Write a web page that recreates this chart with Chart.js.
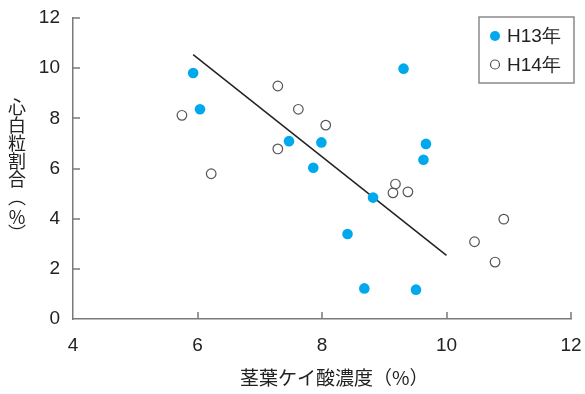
<!DOCTYPE html>
<html>
<head>
<meta charset="utf-8">
<script src="https://cdn.jsdelivr.net/npm/chart.js@4/dist/chart.umd.min.js"></script>
<style>
  html, body { margin: 0; padding: 0; background: #fff; }
  #wrap { width: 585px; height: 394px; }
</style>
</head>
<body>
<div id="wrap"><canvas id="c" width="585" height="394"></canvas></div>
<script>
// 茎葉ケイ酸濃度と心白粒割合
const seriesNames = ['H13年', 'H14年'];
const h13X = [5.93, 6.04, 7.47, 7.99, 7.86, 9.31, 9.67, 9.63, 8.82, 8.41, 8.68, 9.51];
const h13Y = [9.81, 8.36, 7.09, 7.04, 6.03, 9.98, 6.98, 6.35, 4.84, 3.39, 1.22, 1.17];
const h14X = [5.75, 6.22, 7.29, 7.29, 7.62, 8.06, 9.18, 9.14, 9.38, 10.92, 10.45, 10.78];
const h14Y = [8.12, 5.79, 9.29, 6.78, 8.36, 7.73, 5.38, 5.03, 5.07, 3.98, 3.08, 2.27];
const trendX = [5.93, 10.0];
const trendY = [10.54, 2.54];
const xTicks = [4, 6, 8, 10, 12];
const yTicks = [0, 2, 4, 6, 8, 10, 12];
const xTitle = '茎葉ケイ酸濃度（%）';
const yTitleChars = ['心', '白', '粒', '割', '合', '︵', '%', '︶'];

const BLUE = '#00a9ec';
const AXIS = '#7a7a7a';
const TEXT = '#222';
const LATIN = '"Liberation Sans", Arial, sans-serif';
const CJK = '"Noto Sans CJK JP", "Liberation Sans", sans-serif';

const pts = (xs, ys) => xs.map((x, i) => ({ x, y: ys[i] }));

// inward tick marks, axis titles and the boxed legend
const decor = {
  id: 'decor',
  afterDraw(chart) {
    const { ctx, scales: { x, y } } = chart;
    const ca = chart.chartArea;
    ctx.save();
    ctx.strokeStyle = AXIS;
    ctx.lineWidth = 1.5;
    ctx.beginPath();
    xTicks.forEach(v => {
      if (v === xTicks[0]) return;
      const px = Math.round(x.getPixelForValue(v));
      ctx.moveTo(px, ca.bottom);
      ctx.lineTo(px, ca.bottom - 7);
    });
    yTicks.forEach(v => {
      if (v === yTicks[0]) return;
      const py = Math.round(y.getPixelForValue(v));
      ctx.moveTo(ca.left, py);
      ctx.lineTo(ca.left + 7, py);
    });
    ctx.stroke();

    // axis titles
    ctx.fillStyle = TEXT;
    ctx.font = '19px ' + CJK;
    ctx.textAlign = 'left';
    ctx.textBaseline = 'middle';
    ctx.fillText(xTitle, 240, 378);
    ctx.font = '18px ' + CJK;
    ctx.textAlign = 'center';
    yTitleChars.forEach((ch, i) => {
      ctx.fillText(ch, 17, 107 + i * 18 + (ch === '%' ? 2 : 0));
    });

    // legend
    const bx = 479, by = 17, bw = 95, bh = 66;
    ctx.strokeStyle = '#8a8a8a';
    ctx.lineWidth = 1.5;
    ctx.strokeRect(bx, by, bw, bh);
    chart.data.datasets.slice(0, 2).forEach((ds, i) => {
      const cy = 36 + i * 28.5;
      ctx.beginPath();
      ctx.arc(495, cy, ds.pointRadius - 0.3, 0, Math.PI * 2);
      if (ds.pointBackgroundColor !== 'transparent') {
        ctx.fillStyle = ds.pointBackgroundColor;
        ctx.fill();
      } else {
        ctx.strokeStyle = ds.pointBorderColor;
        ctx.lineWidth = ds.pointBorderWidth;
        ctx.stroke();
      }
      ctx.fillStyle = TEXT;
      ctx.font = '19px ' + LATIN;
      ctx.textAlign = 'left';
      ctx.textBaseline = 'middle';
      ctx.fillText(ds.label, 507, cy + 1);
    });
    ctx.restore();
  }
};

const noPad = s => { s.paddingLeft = 0; s.paddingRight = 0; s.paddingTop = 0; s.paddingBottom = 0; };

new Chart(document.getElementById('c'), {
  type: 'scatter',
  data: {
    datasets: [
      {
        label: seriesNames[0],
        data: pts(h13X, h13Y),
        pointRadius: 5.3,
        pointBackgroundColor: BLUE,
        pointBorderColor: BLUE,
        pointBorderWidth: 0,
        order: 1
      },
      {
        label: seriesNames[1],
        data: pts(h14X, h14Y),
        pointRadius: 4.8,
        pointBackgroundColor: 'transparent',
        pointBorderColor: '#555',
        pointBorderWidth: 1.2,
        order: 2
      },
      {
        type: 'line',
        label: 'trend',
        data: pts(trendX, trendY),
        borderColor: '#222',
        borderWidth: 1.5,
        pointRadius: 0,
        fill: false,
        order: 3
      }
    ]
  },
  options: {
    responsive: false,
    animation: false,
    devicePixelRatio: 1,
    layout: { padding: { left: 0, top: 18, right: 14, bottom: 0 } },
    plugins: { legend: { display: false }, tooltip: { enabled: false } },
    scales: {
      x: {
        type: 'linear',
        min: 4, max: 12,
        afterFit: s => { s.height = 75; noPad(s); },
        afterBuildTicks: s => { s.ticks = xTicks.map(v => ({ value: v })); },
        grid: { display: false, drawTicks: false },
        border: { display: true, color: AXIS, width: 1.5 },
        ticks: { color: TEXT, font: { family: LATIN, size: 19 }, padding: 15, maxRotation: 0 }
      },
      y: {
        type: 'linear',
        min: 0, max: 12,
        afterFit: s => { s.width = 73; noPad(s); },
        afterBuildTicks: s => { s.ticks = yTicks.map(v => ({ value: v })); },
        grid: { display: false, drawTicks: false },
        border: { display: true, color: AXIS, width: 1.5 },
        ticks: { color: TEXT, font: { family: LATIN, size: 19 }, padding: 13 }
      }
    }
  },
  plugins: [decor]
});
</script>
</body>
</html>
